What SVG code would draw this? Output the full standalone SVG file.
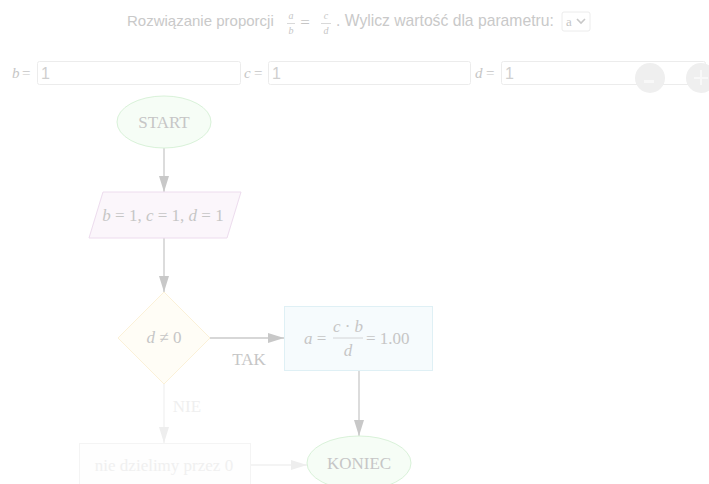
<svg xmlns="http://www.w3.org/2000/svg" width="709" height="484" viewBox="0 0 709 484">
<defs>
<style>
.t{font-family:"Liberation Sans",Arial,sans-serif;fill:#c9c9c9;font-size:15px}
.m{font-family:"Liberation Serif","Times New Roman",serif;fill:#c6c6c6;font-size:17px}
.f{font-size:10px}
.l{font-size:15px}
.i{font-style:italic}
.in{fill:#fff;stroke:#ececec;stroke-width:1}
.iv{font-family:"Liberation Sans",Arial,sans-serif;fill:#cfcfcf;font-size:16px}
.c{stroke:#cacaca;stroke-width:1.3;fill:none}
.cf{stroke:#f1f1f1;stroke-width:1.3;fill:none}
</style>
<marker id="ah" viewBox="0 0 16 10" refX="16" refY="5" markerWidth="17" markerHeight="10" markerUnits="userSpaceOnUse" orient="auto"><path d="M0,0 L16,5 L0,10 z" fill="#c8c8c8"/></marker>
<marker id="ah2" viewBox="0 0 16 10" refX="16" refY="5" markerWidth="17" markerHeight="10" markerUnits="userSpaceOnUse" orient="auto"><path d="M0,0 L16,5 L0,10 z" fill="#eeeeee"/></marker>
</defs>
<rect width="709" height="484" fill="#fff"/>
<g id="header">
<text class="t" x="127" y="26">Rozwiązanie proporcji</text>
<text class="m i f" x="291" y="19" text-anchor="middle">a</text>
<line x1="287" y1="23.5" x2="295" y2="23.5" stroke="#cfcfcf" stroke-width="0.8"/>
<text class="m i f" x="291" y="34" text-anchor="middle">b</text>
<text class="m" x="305" y="28" text-anchor="middle">=</text>
<text class="m i f" x="326" y="19" text-anchor="middle">c</text>
<line x1="321" y1="23.5" x2="331" y2="23.5" stroke="#cfcfcf" stroke-width="0.8"/>
<text class="m i f" x="326" y="34" text-anchor="middle">d</text>
<text class="t" x="336" y="26" style="font-size:15.7px">. Wylicz wartość dla parametru:</text>
<rect class="in" x="562" y="12" width="28" height="19" rx="2" stroke="#dcdcdc"/>
<text class="m" x="566" y="26" style="font-size:13px">a</text>
<path d="M577,19 L581,23 L585,19" stroke="#c8c8c8" stroke-width="1.6" fill="none"/>
</g>
<g id="inputs">
<text class="m i l" x="12" y="78">b</text><text class="m l" x="22" y="78">=</text>
<rect class="in" x="37.5" y="61.5" width="203" height="23" rx="2"/>
<text class="iv" x="41" y="79">1</text>
<text class="m i l" x="244" y="78">c</text><text class="m l" x="254" y="78">=</text>
<rect class="in" x="268.5" y="61.5" width="202" height="23" rx="2"/>
<text class="iv" x="272" y="79">1</text>
<text class="m i l" x="475" y="78">d</text><text class="m l" x="486" y="78">=</text>
<rect class="in" x="501.5" y="61.5" width="204" height="23" rx="2"/>
<text class="iv" x="505" y="79">1</text>
<circle cx="650" cy="78" r="15" fill="#efefef"/>
<rect x="644" y="80" width="10" height="3" fill="#f8f8f8"/>
<circle cx="701" cy="78" r="15" fill="#efefef"/>
<rect x="694" y="77" width="14" height="2" fill="#f8f8f8"/>
<rect x="700" y="70" width="2" height="15" fill="#f8f8f8"/>
</g>
<g id="connectors">
<line class="c" x1="164" y1="148" x2="164" y2="192" marker-end="url(#ah)"/>
<line class="c" x1="164" y1="238" x2="164" y2="292" marker-end="url(#ah)"/>
<line class="c" x1="210" y1="338" x2="284" y2="338" marker-end="url(#ah)"/>
<text class="m" x="249" y="365" text-anchor="middle">TAK</text>
<line class="c" x1="359" y1="370" x2="359" y2="436" marker-end="url(#ah)"/>
<line class="cf" x1="164" y1="384" x2="164" y2="443" marker-end="url(#ah2)"/>
<text class="m" x="187" y="412" text-anchor="middle" style="fill:#efefef">NIE</text>
<line class="cf" x1="250" y1="465" x2="307" y2="465" marker-end="url(#ah2)"/>
</g>
<g id="start">
<ellipse cx="164" cy="122" rx="47" ry="26" fill="#f6fdf6" stroke="#d9f2d9"/>
<text class="m" x="164" y="128" text-anchor="middle">START</text>
</g>
<g id="input-data">
<polygon points="103,192 241,192 227,238 89,238" fill="#fbf6fb" stroke="#eddcee"/>
<text class="m" x="163" y="221" text-anchor="middle"><tspan class="i">b</tspan> = 1, <tspan class="i">c</tspan> = 1, <tspan class="i">d</tspan> = 1</text>
</g>
<g id="decision">
<polygon points="164,292 210,338 164,384 118,338" fill="#fffdf6" stroke="#fbf1d8"/>
<text class="m" x="164" y="343" text-anchor="middle"><tspan class="i">d</tspan> ≠ 0</text>
</g>
<g id="compute">
<rect x="284.5" y="306.5" width="148" height="64" fill="#f6fbfd" stroke="#dff0f5"/>
<text class="m" x="304" y="344"><tspan class="i">a</tspan> =</text>
<text class="m" x="348" y="332" text-anchor="middle"><tspan class="i">c</tspan> · <tspan class="i">b</tspan></text>
<line x1="333" y1="338" x2="363" y2="338" stroke="#cccccc" stroke-width="0.8"/>
<text class="m i" x="348" y="356" text-anchor="middle">d</text>
<text class="m" x="366" y="344">= 1.00</text>
</g>
<g id="error">
<rect x="79.5" y="443.5" width="171" height="44" fill="#fefefe" stroke="#f4f4f4"/>
<text class="m" x="164" y="471" text-anchor="middle" style="fill:#f0f0f0">nie dzielimy przez 0</text>
</g>
<g id="end">
<ellipse cx="359" cy="463" rx="52" ry="27" fill="#f6fdf6" stroke="#d9f2d9"/>
<text class="m" x="359" y="469" text-anchor="middle">KONIEC</text>
</g>
</svg>
